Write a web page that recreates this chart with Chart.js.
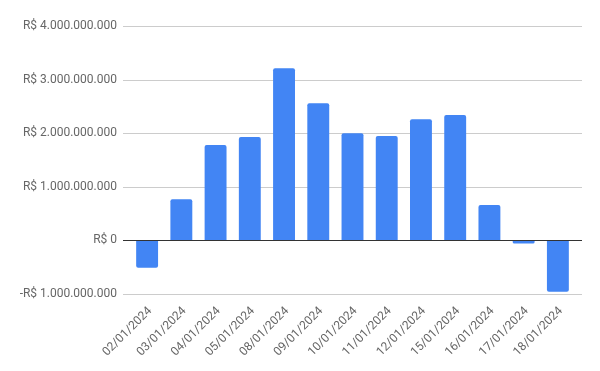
<!DOCTYPE html>
<html>
<head>
<meta charset="utf-8">
<script src="https://cdn.jsdelivr.net/npm/chart.js@4/dist/chart.umd.min.js"></script>
<style>
  html, body { margin: 0; padding: 0; background: #ffffff; }
  #wrap { width: 600px; height: 371px; position: relative; }
</style>
</head>
<body>
<div id="wrap"><canvas id="c"></canvas></div>
<script>
const categories = ["02/01/2024","03/01/2024","04/01/2024","05/01/2024","08/01/2024","09/01/2024","10/01/2024","11/01/2024","12/01/2024","15/01/2024","16/01/2024","17/01/2024","18/01/2024"];
const values = [-510000000, 770000000, 1780000000, 1930000000, 3210000000, 2560000000, 2000000000, 1950000000, 2260000000, 2340000000, 660000000, -60000000, -960000000];
const yTicks = [-1000000000, 0, 1000000000, 2000000000, 3000000000, 4000000000];

function fmtBRL(v) {
  const neg = v < 0;
  const s = Math.abs(Math.round(v)).toString().replace(/\B(?=(\d{3})+(?!\d))/g, ".");
  return (neg ? "-R$ " : "R$ ") + s;
}

const gridPlugin = {
  id: 'gridPlugin',
  beforeDatasetsDraw(chart) {
    const ctx = chart.ctx;
    const y = chart.scales.y;
    const a = chart.chartArea;
    ctx.save();
    yTicks.forEach(t => {
      const py = Math.round(y.getPixelForValue(t)) + 0.5;
      ctx.beginPath();
      ctx.lineWidth = 1;
      ctx.strokeStyle = t === 0 ? '#333333' : '#cccccc';
      ctx.moveTo(a.left - 7, py);
      ctx.lineTo(a.right + 7, py);
      ctx.stroke();
    });
    ctx.restore();
  },
  afterDatasetsDraw(chart) {
    const ctx = chart.ctx;
    const y = chart.scales.y;
    const a = chart.chartArea;
    const py = Math.round(y.getPixelForValue(0)) + 0.5;
    ctx.save();
    ctx.beginPath();
    ctx.lineWidth = 1;
    ctx.strokeStyle = '#333333';
    ctx.moveTo(a.left - 7, py);
    ctx.lineTo(a.right + 7, py);
    ctx.stroke();
    ctx.restore();
  }
};

new Chart(document.getElementById('c'), {
  type: 'bar',
  data: {
    labels: categories,
    datasets: [{
      data: values,
      backgroundColor: '#4285f4',
      borderWidth: 0,
      borderRadius: 2,
      categoryPercentage: 1,
      barPercentage: 0.64
    }]
  },
  options: {
    responsive: true,
    maintainAspectRatio: false,
    animation: false,
    layout: { padding: { top: 26, right: 25, bottom: 0, left: 0 } },
    plugins: { legend: { display: false }, tooltip: { enabled: false } },
    scales: {
      x: {
        offset: true,
        grid: { display: false, drawTicks: false },
        border: { display: false },
        ticks: {
          autoSkip: false,
          minRotation: 45,
          maxRotation: 45,
          padding: 10,
          labelOffset: 3,
          color: '#666666',
          font: { family: 'Roboto', size: 12 }
        },
        afterFit(scale) { scale.height = 77; }
      },
      y: {
        min: -1000000000,
        max: 4000000000,
        afterBuildTicks(scale) { scale.ticks = yTicks.map(v => ({ value: v })); },
        grid: { display: false, drawTicks: false },
        border: { display: false },
        ticks: {
          padding: 13,
          color: '#666666',
          font: { family: 'Roboto', size: 12 },
          callback: (v) => fmtBRL(v)
        },
        afterFit(scale) { scale.width = 130; }
      }
    }
  },
  plugins: [gridPlugin]
});
</script>
</body>
</html>
